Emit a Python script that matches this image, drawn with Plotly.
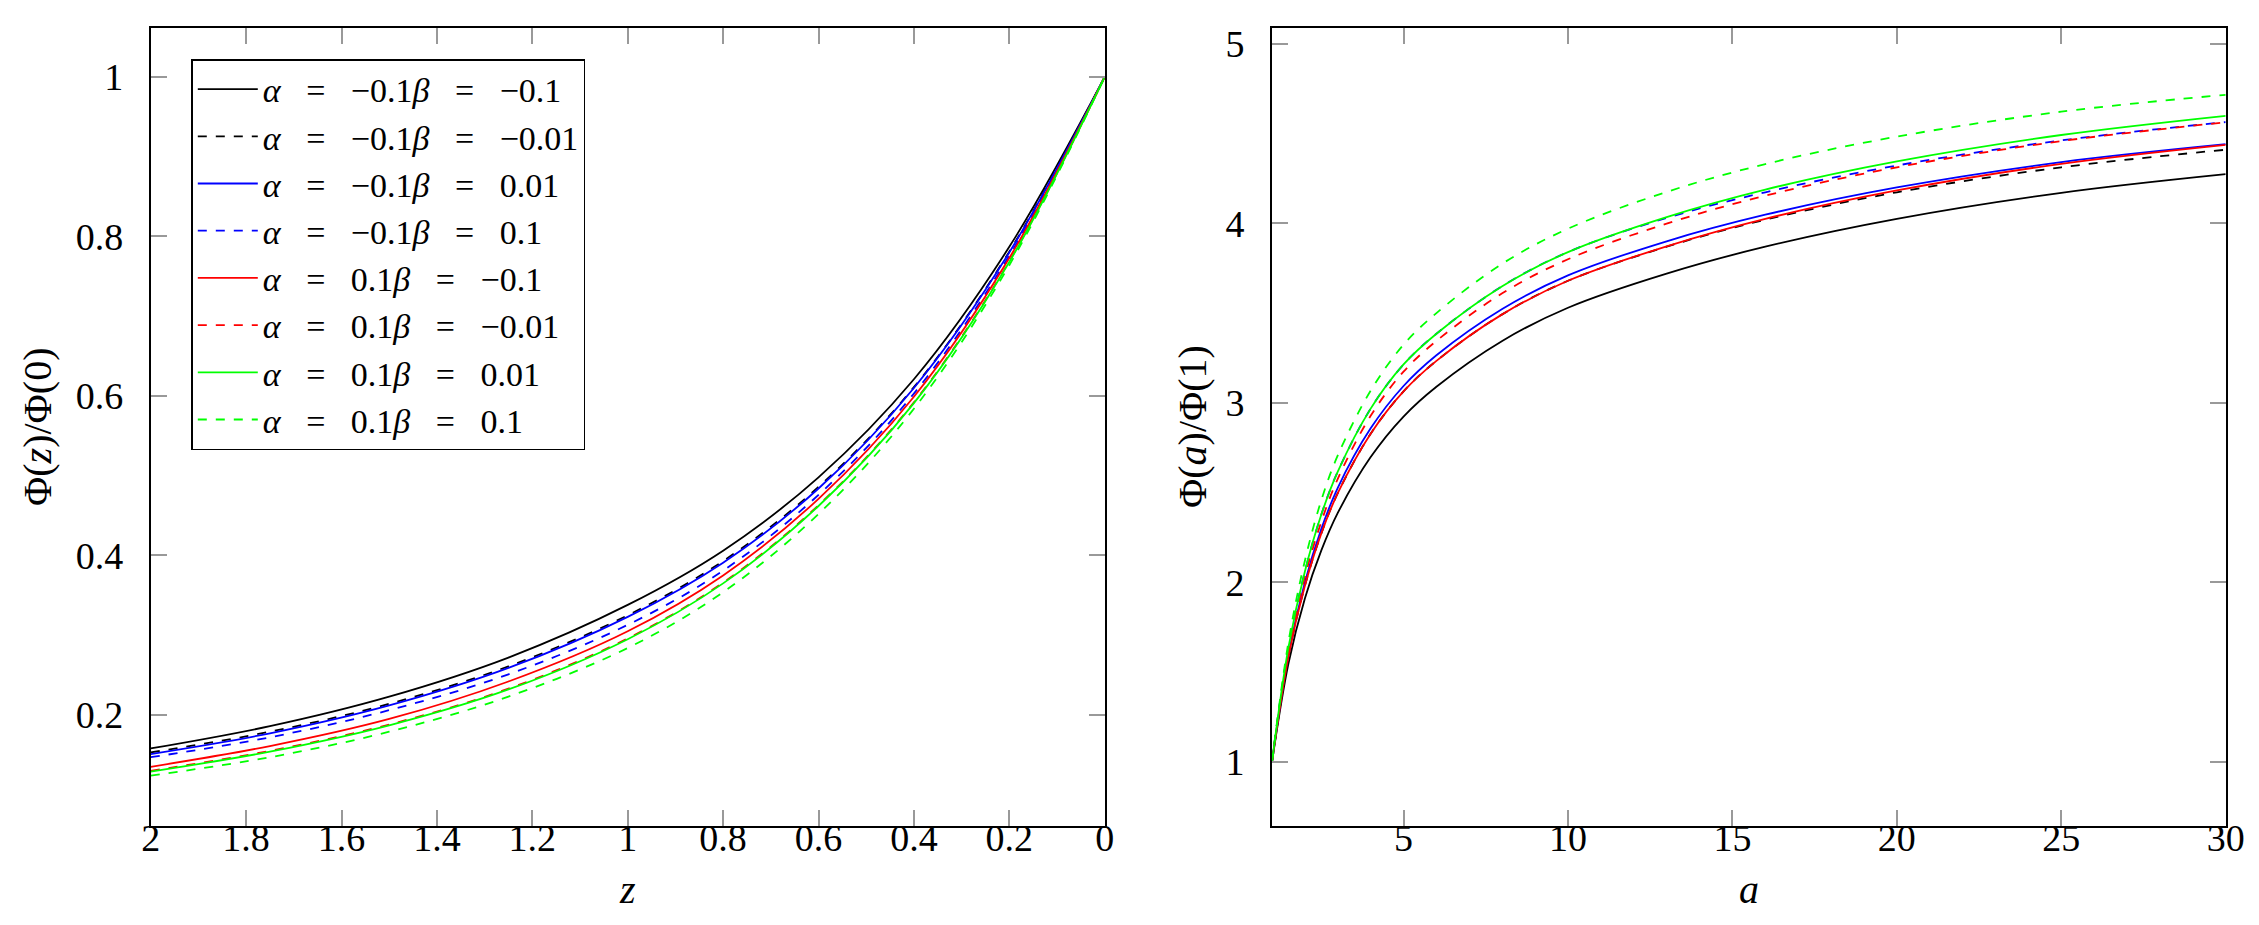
import plotly.graph_objects as go
from plotly.subplots import make_subplots

# left panel: Phi(z)/Phi(0)
z_vals = [2, 1.75, 1.5, 1.25, 1, 0.8, 0.6, 0.4, 0.2, 0]
phi_z_a1_b1 = [0.158, 0.186, 0.223, 0.272, 0.338, 0.406, 0.498, 0.621, 0.787, 1.0]
phi_z_a1_b2 = [0.153, 0.179, 0.214, 0.261, 0.325, 0.393, 0.486, 0.611, 0.781, 1.0]
phi_z_a1_b3 = [0.151, 0.177, 0.212, 0.259, 0.323, 0.391, 0.484, 0.610, 0.780, 1.0]
phi_z_a1_b4 = [0.147, 0.172, 0.206, 0.251, 0.313, 0.381, 0.476, 0.603, 0.776, 1.0]
phi_z_a2_b1 = [0.135, 0.161, 0.195, 0.242, 0.305, 0.375, 0.471, 0.599, 0.773, 1.0]
phi_z_a2_b2 = [0.130, 0.155, 0.188, 0.233, 0.296, 0.366, 0.463, 0.592, 0.769, 1.0]
phi_z_a2_b3 = [0.129, 0.154, 0.187, 0.232, 0.295, 0.365, 0.462, 0.591, 0.768, 1.0]
phi_z_a2_b4 = [0.124, 0.147, 0.179, 0.223, 0.284, 0.354, 0.452, 0.584, 0.764, 1.0]

# right panel: Phi(a)/Phi(1)
a_vals = [1, 1.5, 2, 2.5, 3, 4, 5, 6, 8, 10, 13, 16, 20, 25, 30]
phi_a_a1_b1 = [1, 1.548, 1.911, 2.178, 2.387, 2.698, 2.924, 3.09, 3.345, 3.53, 3.72, 3.87, 4.025, 4.17, 4.274]
phi_a_a1_b2 = [1, 1.588, 1.981, 2.273, 2.497, 2.828, 3.064, 3.234, 3.493, 3.68, 3.87, 4.02, 4.173, 4.312, 4.41]
phi_a_a1_b3 = [1, 1.598, 2.001, 2.298, 2.527, 2.858, 3.094, 3.265, 3.523, 3.71, 3.90, 4.048, 4.20, 4.341, 4.441]
phi_a_a1_b4 = [1, 1.638, 2.061, 2.378, 2.617, 2.968, 3.214, 3.385, 3.65, 3.84, 4.03, 4.173, 4.322, 4.462, 4.564]
phi_a_a2_b1 = [1, 1.588, 1.981, 2.273, 2.497, 2.828, 3.064, 3.234, 3.493, 3.68, 3.872, 4.025, 4.183, 4.331, 4.437]
phi_a_a2_b2 = [1, 1.618, 2.031, 2.338, 2.577, 2.928, 3.174, 3.345, 3.61, 3.80, 3.998, 4.154, 4.312, 4.458, 4.563]
phi_a_a2_b3 = [1, 1.638, 2.061, 2.378, 2.617, 2.968, 3.214, 3.385, 3.65, 3.84, 4.035, 4.188, 4.345, 4.492, 4.599]
phi_a_a2_b4 = [1, 1.668, 2.121, 2.458, 2.707, 3.068, 3.324, 3.50, 3.775, 3.97, 4.175, 4.33, 4.483, 4.622, 4.716]

labels = [
    "<i>α</i> = −0.1<i>β</i> = −0.1",
    "<i>α</i> = −0.1<i>β</i> = −0.01",
    "<i>α</i> = −0.1<i>β</i> = 0.01",
    "<i>α</i> = −0.1<i>β</i> = 0.1",
    "<i>α</i> = 0.1<i>β</i> = −0.1",
    "<i>α</i> = 0.1<i>β</i> = −0.01",
    "<i>α</i> = 0.1<i>β</i> = 0.01",
    "<i>α</i> = 0.1<i>β</i> = 0.1",
]
left_series = [phi_z_a1_b1, phi_z_a1_b2, phi_z_a1_b3, phi_z_a1_b4,
               phi_z_a2_b1, phi_z_a2_b2, phi_z_a2_b3, phi_z_a2_b4]
right_series = [phi_a_a1_b1, phi_a_a1_b2, phi_a_a1_b3, phi_a_a1_b4,
                phi_a_a2_b1, phi_a_a2_b2, phi_a_a2_b3, phi_a_a2_b4]

colors = ["#000000", "#000000", "#0000ff", "#0000ff",
          "#ff0000", "#ff0000", "#00ff00", "#00ff00"]
dashes = ["solid", "9px,9px"] * 4

W, H = 2259, 925
FONT = "Liberation Serif, 'DejaVu Serif', serif"


def math_spaced(s):
    # wider gaps round "=" like TeX math spacing
    return s.replace(" = ", "\u2002\u2005=\u2002\u2005")


fig = make_subplots(rows=1, cols=2)

for i in range(8):
    fig.add_trace(go.Scatter(x=z_vals, y=left_series[i], mode="lines", name=math_spaced(labels[i]),
                             line=dict(color=colors[i], width=1.8, dash=dashes[i], shape="spline"),
                             showlegend=True), row=1, col=1)
for i in range(8):
    fig.add_trace(go.Scatter(x=a_vals, y=right_series[i], mode="lines", name=math_spaced(labels[i]),
                             line=dict(color=colors[i], width=1.8, dash=dashes[i], shape="spline"),
                             showlegend=False), row=1, col=2)

axis_style = dict(showline=True, linecolor="black", linewidth=1.8, mirror="allticks",
                  ticks="inside", ticklen=16, tickcolor="#999999", tickwidth=1.5,
                  showgrid=False, zeroline=False, automargin=False,
                  tickfont=dict(family=FONT, size=38, color="black"))

fig.update_xaxes(axis_style, ticklabelstandoff=-22)
fig.update_yaxes(axis_style, ticklabelstandoff=18)

fig.update_xaxes(domain=[142.7 / W, 1096.7 / W], range=[2, 0],
                 tickvals=[2, 1.8, 1.6, 1.4, 1.2, 1, 0.8, 0.6, 0.4, 0.2, 0],
                 ticktext=["2", "1.8", "1.6", "1.4", "1.2", "1", "0.8", "0.6", "0.4", "0.2", "0"],
                 row=1, col=1)
fig.update_yaxes(domain=[(H - 817.5) / H, (H - 20) / H], range=[0.0614, 1.0614],
                 tickvals=[0.2, 0.4, 0.6, 0.8, 1],
                 ticktext=["0.2", "0.4", "0.6", "0.8", "1"], row=1, col=1)
fig.update_xaxes(domain=[1264 / W, 2217.7 / W], range=[1, 30],
                 tickvals=[5, 10, 15, 20, 25, 30], row=1, col=2)
fig.update_yaxes(domain=[(H - 817.5) / H, (H - 20) / H], range=[0.646, 5.088],
                 tickvals=[1, 2, 3, 4, 5], row=1, col=2)

title_font = dict(family=FONT, size=40, color="black")
fig.add_annotation(text="<i>z</i>", x=619.7 / W, y=(H - 881) / H, xref="paper", yref="paper",
                   showarrow=False, font=title_font, xanchor="center", yanchor="middle")
fig.add_annotation(text="<i>a</i>", x=1740.9 / W, y=(H - 881) / H, xref="paper", yref="paper",
                   showarrow=False, font=title_font, xanchor="center", yanchor="middle")
fig.add_annotation(text="Φ(<i>z</i>)/Φ(0)", x=29 / W, y=(H - 419) / H, xref="paper", yref="paper",
                   showarrow=False, font=title_font, textangle=-90,
                   xanchor="center", yanchor="middle")
fig.add_annotation(text="Φ(<i>a</i>)/Φ(1)", x=1184 / W, y=(H - 419) / H, xref="paper", yref="paper",
                   showarrow=False, font=title_font, textangle=-90,
                   xanchor="center", yanchor="middle")

fig.update_layout(
    width=W, height=H,
    margin=dict(l=0, r=0, t=0, b=0, autoexpand=False),
    paper_bgcolor="white", plot_bgcolor="white",
    font=dict(family=FONT, color="black"),
    legend=dict(x=183.3 / W, y=(H - 51) / H, xanchor="left", yanchor="top",
                bgcolor="white", bordercolor="black", borderwidth=1.5,
                font=dict(family=FONT, size=34, color="black"),
                itemwidth=60, tracegroupgap=0),
)

fig.write_html("out.html")
